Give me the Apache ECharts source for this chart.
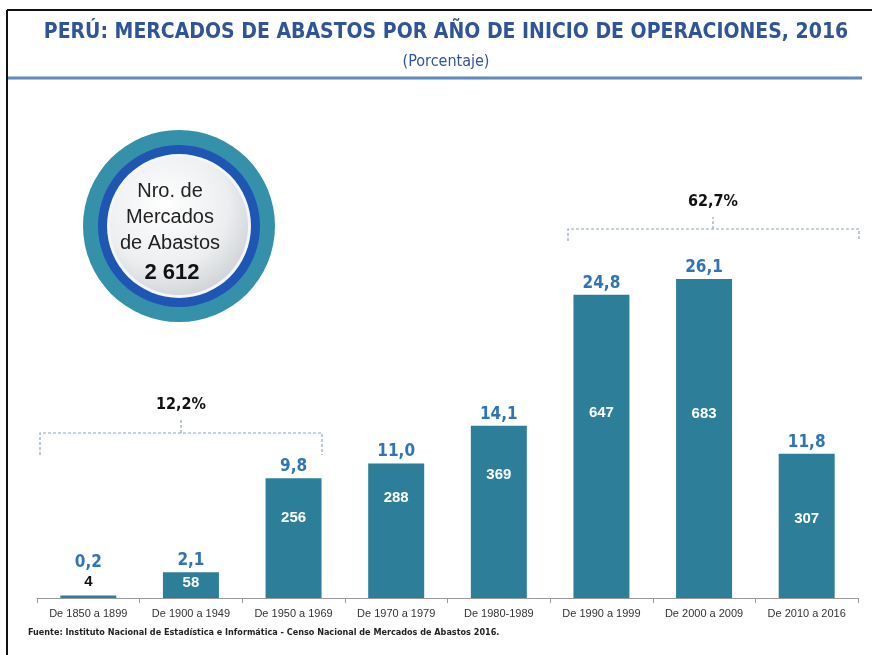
<!DOCTYPE html>
<html>
<head>
<meta charset="utf-8">
<script src="https://cdn.jsdelivr.net/npm/echarts@6/dist/echarts.min.js"></script>
<style>
  html, body { margin: 0; padding: 0; background: #fff; }
  #chart { width: 872px; height: 655px; }
</style>
</head>
<body>
<div id="chart"></div>
<script>
const categories = ["De 1850 a 1899", "De 1900 a 1949", "De 1950 a 1969", "De 1970 a 1979",
  "De 1980-1989", "De 1990 a 1999", "De 2000 a 2009", "De 2010 a 2016"];
const percentages = [0.2, 2.1, 9.8, 11.0, 14.1, 24.8, 26.1, 11.8];
const counts = [4, 58, 256, 288, 369, 647, 683, 307];
const totalMarkets = "2 612";
const groupLabels = ["12,2%", "62,7%"];

// where the count sits inside each bar (px from bar top)
const countPos = [0, 3, 32, 27, 42, 111, 127, 58];

const narrow = '"DejaVu Sans Condensed", "Liberation Sans Narrow", Arial, sans-serif';
const fmt = v => v.toFixed(1).replace(".", ",");

const chart = echarts.init(document.getElementById("chart"));

const dash = { stroke: "#8fa6bf", lineWidth: 1.2, lineDash: [3, 2] };

const option = {
  animation: false,
  grid: { left: 37, right: 14, top: 109, bottom: 57 },
  xAxis: {
    type: "category",
    data: categories,
    axisLine: { lineStyle: { color: "#9a9a9a" } },
    axisTick: { show: true, length: 5, lineStyle: { color: "#9a9a9a" } },
    axisLabel: { color: "#333", fontSize: 11, fontFamily: "Liberation Sans, Arial, sans-serif", margin: 10 }
  },
  yAxis: { type: "value", min: 0, max: 40, show: false, splitLine: { show: false } },
  series: [
    {
      type: "bar",
      barWidth: 56,
      data: percentages.map((v, i) => ({
        value: v,
        label: { distance: i === 0 ? 24 : 3 }
      })),
      itemStyle: { color: "#2d7f99" },
      label: {
        show: true,
        position: "top",
        formatter: p => fmt(p.value),
        color: "#2e74b8",
        fontSize: 17,
        fontWeight: "bold",
        fontFamily: narrow
      },
      z: 2
    },
    {
      type: "bar",
      barWidth: 56,
      barGap: "-100%",
      data: percentages.map((v, i) => ({
        value: v,
        label: i === 0
          ? { position: "top", distance: 6, color: "#111" }
          : { position: "insideTop", distance: countPos[i] }
      })),
      itemStyle: { color: "rgba(0,0,0,0)" },
      label: {
        show: true,
        formatter: p => String(counts[p.dataIndex]),
        color: "#fff",
        fontSize: 15,
        fontWeight: "bold",
        fontFamily: "Liberation Sans, Arial, sans-serif"
      },
      z: 3
    }
  ],
  graphic: [
    // frame
    { type: "line", shape: { x1: 7, y1: 10, x2: 872, y2: 10 }, style: { stroke: "#111", lineWidth: 2 } },
    { type: "line", shape: { x1: 7, y1: 10, x2: 7, y2: 655 }, style: { stroke: "#111", lineWidth: 2 } },
    { type: "line", shape: { x1: 8, y1: 78, x2: 862, y2: 78 }, style: { stroke: "#5b8bc0", lineWidth: 3 } },
    {
      type: "text", x: 446, y: 33,
      style: {
        text: "PERÚ: MERCADOS DE ABASTOS POR AÑO DE INICIO DE OPERACIONES, 2016",
        fill: "#2f5597", font: "bold 21px " + narrow, align: "center", verticalAlign: "middle"
      }
    },
    {
      type: "text", x: 446, y: 62,
      style: { text: "(Porcentaje)", fill: "#2f5597", font: "16px " + narrow, align: "center", verticalAlign: "middle" }
    },
    {
      type: "text", left: 28, top: 628,
      style: {
        text: "Fuente: Instituto Nacional de Estadística e Informática - Censo Nacional de Mercados de Abastos 2016.",
        fill: "#222", font: "bold 9px " + narrow
      }
    },
    // circle badge
    { type: "circle", shape: { cx: 179, cy: 226, r: 96 }, style: { fill: "#3590aa" } },
    { type: "circle", shape: { cx: 179, cy: 226, r: 81 }, style: { fill: "#1f55b3" } },
    { type: "circle", shape: { cx: 179, cy: 226, r: 72 }, style: { fill: "#f4f5f6" } },
    {
      type: "circle", shape: { cx: 179, cy: 226, r: 69 },
      style: {
        fill: new echarts.graphic.RadialGradient(0.4, 0.35, 0.75, [
          { offset: 0, color: "#ffffff" },
          { offset: 0.6, color: "#eceef0" },
          { offset: 1, color: "#c9ccd0" }
        ])
      }
    },
    {
      type: "text", x: 170, y: 217,
      style: {
        text: "Nro. de\nMercados\nde Abastos",
        fill: "#222", font: "20px Liberation Sans, Arial, sans-serif",
        align: "center", verticalAlign: "middle", lineHeight: 26
      }
    },
    {
      type: "text", x: 172, y: 273,
      style: {
        text: totalMarkets, fill: "#111", font: "bold 22px Liberation Sans, Arial, sans-serif",
        align: "center", verticalAlign: "middle"
      }
    },
    // group brackets
    { type: "polyline", shape: { points: [[40, 455], [40, 433], [322, 433], [322, 455]] }, style: Object.assign({ fill: null }, dash) },
    { type: "line", shape: { x1: 181, y1: 433, x2: 181, y2: 418 }, style: dash },
    {
      type: "text", x: 181, y: 405,
      style: { text: groupLabels[0], fill: "#111", font: "bold 16px " + narrow, align: "center", verticalAlign: "middle" }
    },
    { type: "polyline", shape: { points: [[568, 241], [568, 229], [859, 229], [859, 241]] }, style: Object.assign({ fill: null }, dash) },
    { type: "line", shape: { x1: 713, y1: 229, x2: 713, y2: 217 }, style: dash },
    {
      type: "text", x: 713, y: 202,
      style: { text: groupLabels[1], fill: "#111", font: "bold 16px " + narrow, align: "center", verticalAlign: "middle" }
    }
  ]
};

chart.setOption(option);
</script>
</body>
</html>
